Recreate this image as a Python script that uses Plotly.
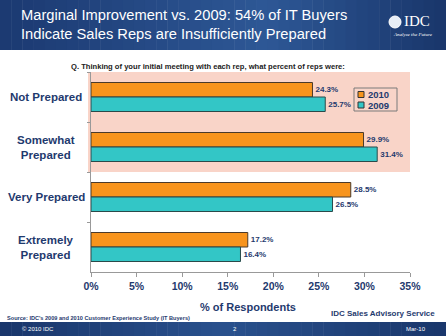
import plotly.graph_objects as go

categories = ["Not Prepared", "Somewhat Prepared", "Very Prepared", "Extremely Prepared"]
cat_labels = ["Not Prepared", "Somewhat<br>Prepared", "Very Prepared", "Extremely<br>Prepared"]
series_names = ["2010", "2009"]
values_2010 = [24.3, 29.9, 28.5, 17.2]
values_2009 = [25.7, 31.4, 26.5, 16.4]
x_ticks = [0, 5, 10, 15, 20, 25, 30, 35]
x_tick_labels = ["0%", "5%", "10%", "15%", "20%", "25%", "30%", "35%"]

W, H = 446, 336
L, R, T, B = 91, 36, 72, 64
PW, PH = W - L - R, H - T - B

def px(x):
    return (x - L) / PW

def py(y):
    return (H - B - y) / PH

NAVY = "#1F3A6E"
ORANGE = "#F7941D"
TEAL = "#33C6C6"
PINK = "#F9D4C8"
FONT = "Liberation Sans, Arial, sans-serif"

fig = go.Figure()
fig.add_trace(go.Bar(
    y=categories, x=values_2010, name=series_names[0], orientation="h",
    marker=dict(color=ORANGE, line=dict(color="#4a3a2a", width=1)),
    texttemplate="%{x:.1f}%", textposition="outside", cliponaxis=False,
    textfont=dict(size=8, color=NAVY, family=FONT, weight="bold"),
))
fig.add_trace(go.Bar(
    y=categories, x=values_2009, name=series_names[1], orientation="h",
    marker=dict(color=TEAL, line=dict(color="#2a4a4a", width=1)),
    texttemplate="%{x:.1f}%", textposition="outside", cliponaxis=False,
    textfont=dict(size=8, color=NAVY, family=FONT, weight="bold"),
))

shapes = []
n = 40
c0 = (0x1C, 0x3A, 0x72)
c1 = (0x2E, 0x58, 0x96)
c2 = (0x1A, 0x37, 0x6C)
for i in range(n):
    t = i / (n - 1)
    if t < 0.6:
        u = t / 0.6
        c = tuple(int(c0[k] + (c1[k] - c0[k]) * u) for k in range(3))
    else:
        u = (t - 0.6) / 0.4
        c = tuple(int(c1[k] + (c2[k] - c1[k]) * u) for k in range(3))
    x0 = W * i / n
    x1 = W * (i + 1) / n + 0.5
    shapes.append(dict(type="rect", xref="paper", yref="paper",
                       x0=px(x0), x1=px(x1), y0=py(50), y1=py(0),
                       fillcolor="rgb(%d,%d,%d)" % c, line=dict(width=0), layer="below"))
for i in range(n):
    t = i / (n - 1)
    u = 1 - abs(t - 0.5) * 2
    c = tuple(int(c2[k] + (c1[k] - c2[k]) * u * 0.8) for k in range(3))
    x0 = W * i / n
    x1 = W * (i + 1) / n + 0.5
    shapes.append(dict(type="rect", xref="paper", yref="paper",
                       x0=px(x0), x1=px(x1), y0=py(336), y1=py(322),
                       fillcolor="rgb(%d,%d,%d)" % c, line=dict(width=0), layer="below"))
shapes.append(dict(type="rect", xref="paper", yref="y",
                   x0=px(88), x1=1, y0=-0.5, y1=1.5,
                   fillcolor=PINK, line=dict(width=0), layer="below"))
# IDC logo circle
shapes.append(dict(type="circle", xref="paper", yref="paper",
                   x0=px(389), x1=px(401), y0=py(28), y1=py(16),
                   fillcolor="#E8EEF6", line=dict(color="#FFFFFF", width=1)))
# legend box (drawn manually)
shapes.append(dict(type="rect", xref="paper", yref="paper",
                   x0=px(354), x1=px(397), y0=py(111), y1=py(88),
                   fillcolor="rgba(0,0,0,0)", line=dict(color="#7a7a7a", width=1)))
legend_colors = [ORANGE, TEAL]
legend_rows = [94.5, 105]
for col, yy in zip(legend_colors, legend_rows):
    shapes.append(dict(type="rect", xref="paper", yref="paper",
                       x0=px(358), x1=px(364), y0=py(yy + 3), y1=py(yy - 3),
                       fillcolor=col, line=dict(color="#333333", width=1)))

annotations = []
for name, yy in zip(series_names, legend_rows):
    annotations.append(dict(xref="paper", yref="paper", x=px(366), y=py(yy), xanchor="left", yanchor="middle",
                            text="<b>" + name + "</b>", showarrow=False,
                            font=dict(size=9.5, color=NAVY, family=FONT)))
annotations.append(dict(xref="paper", yref="paper", x=px(19), y=py(25), xanchor="left", yanchor="middle",
                        text="Marginal Improvement vs. 2009: 54% of IT Buyers<br>Indicate Sales Reps are Insufficiently Prepared",
                        align="left", showarrow=False,
                        font=dict(size=14.7, color="white", family=FONT)))
annotations.append(dict(xref="paper", yref="paper", x=px(402), y=py(21), xanchor="left", yanchor="middle",
                        text="IDC", showarrow=False,
                        font=dict(size=15, color="white", family="Liberation Serif, serif")))
annotations.append(dict(xref="paper", yref="paper", x=px(413), y=py(34), xanchor="center", yanchor="middle",
                        text="<i>Analyze the Future</i>", showarrow=False,
                        font=dict(size=5, color="white", family="Liberation Serif, serif")))
annotations.append(dict(xref="paper", yref="paper", x=px(208), y=py(66), xanchor="center", yanchor="middle",
                        text="<b>Q. Thinking of your initial meeting with each rep, what percent of reps were:</b>",
                        showarrow=False, font=dict(size=7.6, color="#222222", family=FONT)))
for c, lab in zip(categories, cat_labels):
    annotations.append(dict(xref="paper", yref="y", x=px(46), y=c, xanchor="center", yanchor="middle",
                            text="<b>" + lab + "</b>", align="center", showarrow=False,
                            font=dict(size=11.5, color=NAVY, family=FONT)))
annotations.append(dict(xref="paper", yref="paper", x=px(248), y=py(306.5), xanchor="center", yanchor="middle",
                        text="<b>% of Respondents</b>", showarrow=False,
                        font=dict(size=11, color=NAVY, family=FONT)))
annotations.append(dict(xref="paper", yref="paper", x=px(437), y=py(313), xanchor="right", yanchor="middle",
                        text="<b>IDC Sales Advisory Service</b>", showarrow=False,
                        font=dict(size=8, color=NAVY, family=FONT)))
annotations.append(dict(xref="paper", yref="paper", x=px(5), y=py(318), xanchor="left", yanchor="middle",
                        text="<b>Source: IDC's 2009 and 2010 Customer Experience Study (IT Buyers)</b>", showarrow=False,
                        font=dict(size=5.6, color=NAVY, family=FONT)))
annotations.append(dict(xref="paper", yref="paper", x=px(20), y=py(329), xanchor="left", yanchor="middle",
                        text="© 2010 IDC", showarrow=False,
                        font=dict(size=6, color="white", family=FONT)))
annotations.append(dict(xref="paper", yref="paper", x=px(235), y=py(329), xanchor="center", yanchor="middle",
                        text="2", showarrow=False,
                        font=dict(size=6, color="white", family=FONT)))
annotations.append(dict(xref="paper", yref="paper", x=px(428), y=py(329), xanchor="right", yanchor="middle",
                        text="Mar-10", showarrow=False,
                        font=dict(size=6, color="white", family=FONT)))

fig.update_layout(
    width=W, height=H,
    margin=dict(l=L, r=R, t=T, b=B, pad=0),
    paper_bgcolor="white", plot_bgcolor="rgba(0,0,0,0)",
    barmode="group", bargap=0.42, bargroupgap=0,
    showlegend=False,
    xaxis=dict(range=[0, 35], tickvals=x_ticks, ticktext=["<b>" + t + "</b>" for t in x_tick_labels],
               showgrid=False, zeroline=False, showline=True, linecolor="#999999", linewidth=1,
               ticks="outside", ticklen=4, tickcolor="#999999",
               tickfont=dict(size=10.5, color=NAVY, family=FONT), ticklabelstandoff=0),
    yaxis=dict(categoryorder="array", categoryarray=categories, autorange="reversed",
               showticklabels=False, showgrid=False, zeroline=False,
               showline=True, linecolor="#999999", linewidth=1,
               ticks="outside", ticklen=3, tickcolor="#999999", tickson="boundaries"),
    shapes=shapes, annotations=annotations,
)

fig.write_html("out.html")
